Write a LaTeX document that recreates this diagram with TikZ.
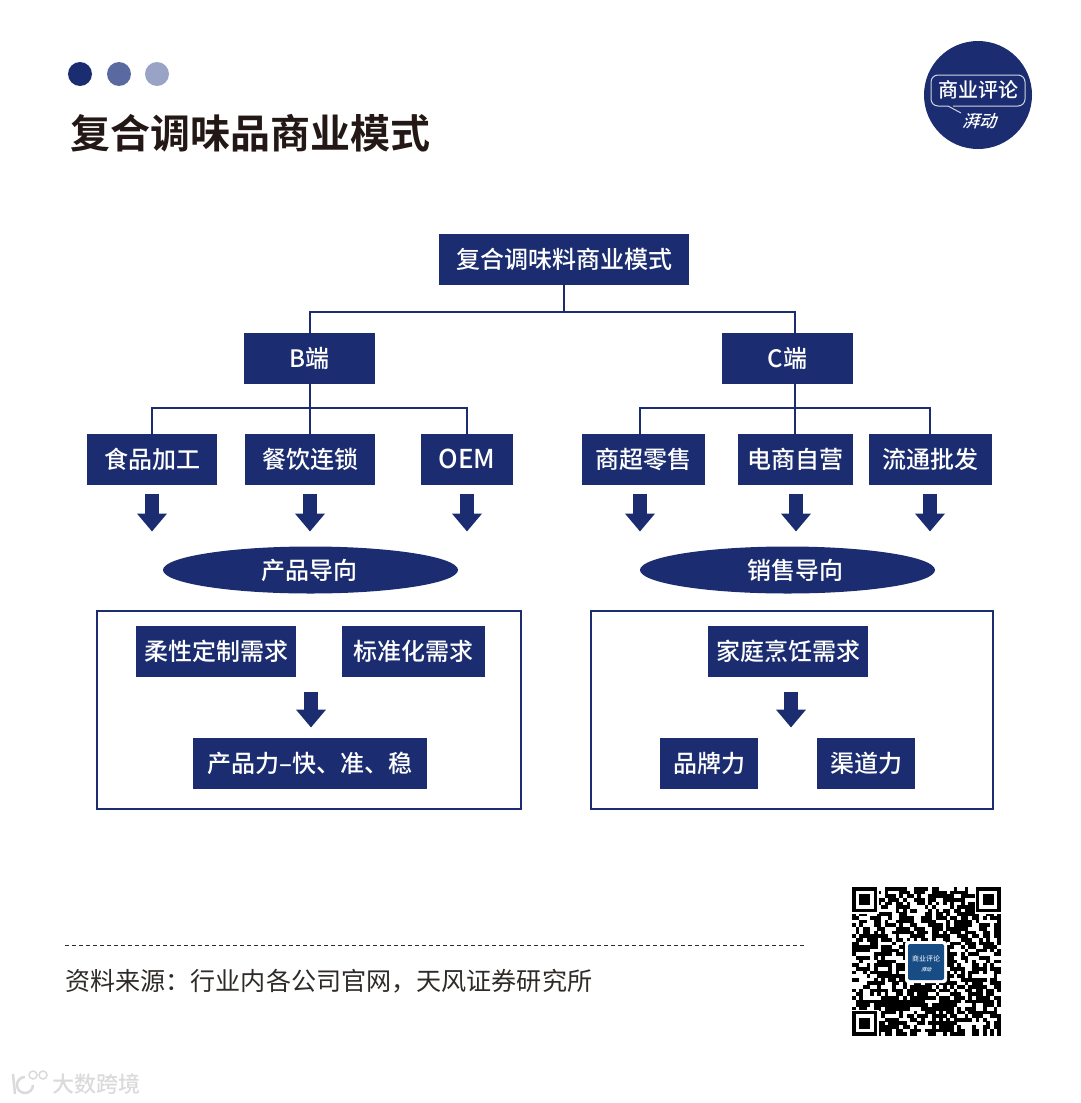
\documentclass[tikz,border=0pt]{standalone}
\usepackage{xcolor}
\usepackage{fontspec}
\usetikzlibrary{positioning,arrows.meta,shapes.geometric,calc}
\setmainfont{Noto Sans CJK SC}
\newfontfamily\cjkmid{Noto Sans CJK SC Medium}
\newfontfamily\cjkhead{Noto Sans CJK SC Bold}
\newfontfamily\cjkslant[FakeSlant=0.3]{Noto Sans CJK SC Medium}
\definecolor{Navy}{HTML}{1B2D70}
\definecolor{NavyMid}{HTML}{5A6AA0}
\definecolor{NavyPale}{HTML}{98A3C6}
\definecolor{Ink}{HTML}{231815}
\definecolor{SourceInk}{HTML}{2E2A28}
\definecolor{MarkGray}{HTML}{DADADA}

\begin{document}
\begin{tikzpicture}[
  x=1pt, y=-1pt,
  box/.style={fill=Navy, text=white, font=\cjkmid\fontsize{24}{24}\selectfont, align=center, minimum height=51pt, inner sep=0pt, outer sep=0pt},
  oval/.style={ellipse, fill=Navy, text=white, font=\cjkmid\fontsize{24}{24}\selectfont, minimum width=295pt, minimum height=47pt, inner sep=0pt, outer sep=0pt},
  frame/.style={draw=Navy, line width=2pt, minimum height=198pt, inner sep=0pt, outer sep=0pt},
  link/.style={draw=Navy, line width=1.8pt},
  bigflow/.style={draw=Navy, line width=14pt, -{Triangle[length=18pt,width=29pt]}}]
\useasboundingbox (0,0) rectangle (1080,1103);
\fill[Navy] (80,74) circle (12);
\fill[NavyMid] (119,74) circle (12);
\fill[NavyPale] (157,74) circle (12);
\node[anchor=west, inner sep=0pt, text=Ink, font=\cjkhead\fontsize{40}{40}\selectfont] (title) at (70,133) {复合调味品商业模式};
\node[circle, fill=Navy, minimum size=108pt, inner sep=0pt] (logo) at (978,95) {};
\node[text=white, font=\cjkmid\fontsize{20}{20}\selectfont, inner sep=0pt] (logoname) at (978,90) {商业评论};
\node[text=white, font=\cjkslant\fontsize{17}{17}\selectfont, inner sep=0pt] (logosub) at (979,121) {湃动};
\draw[white!80!Navy, line width=1pt, rounded corners=7pt] (948,106) -- (931,106) -- (931,75) -- (1025,75) -- (1025,106) -- (953,106);
\draw[white!80!Navy, line width=1pt] (948,106) -- (961,113);

\node[box, minimum width=250pt] (root) at (564,259) {复合调味料商业模式};
\node[box, minimum width=131pt, below=48pt of root, xshift=-254.5pt] (bend) {B端};
\node[box, minimum width=131pt, below=48pt of root, xshift=223.5pt] (cend) {C端};
\node[box, minimum width=130pt, below=50pt of bend, xshift=-157.5pt] (food) {食品加工};
\node[box, minimum width=130pt, right=28pt of food] (chain) {餐饮连锁};
\node[box, minimum width=92pt, right=46pt of chain, font=\cjkmid\fontsize{26}{26}\selectfont] (oem) {OEM};
\node[box, minimum width=123pt, below=50pt of cend, xshift=-144pt] (retail) {商超零售};
\node[box, minimum width=115pt, right=33pt of retail] (ecom) {电商自营};
\node[box, minimum width=123pt, right=16pt of ecom] (whole) {流通批发};
\node[oval, below=62pt of chain, xshift=0.5pt] (prod) {产品导向\hspace*{3pt}};
\node[oval, below=62pt of ecom, xshift=-8pt] (sale) {\hspace*{15pt}销售导向};
\node[frame, minimum width=424pt, below=17pt of prod, xshift=-1.5pt] (framel) {};
\node[frame, minimum width=402pt, below=17pt of sale, xshift=4.5pt] (framer) {};
\node[box, minimum width=160pt, below right=15pt and 39pt of framel.north west] (flex) {柔性定制需求};
\node[box, minimum width=143pt, right=46pt of flex] (std) {标准化需求};
\node[box, minimum width=234pt, below=61pt of flex, xshift=94pt] (power) {产品力–快、准、稳};
\node[box, minimum width=160pt, below=15pt of framer.north, xshift=-4pt] (home) {家庭烹饪需求};
\node[box, minimum width=98pt, below=61pt of home, xshift=-79pt] (brand) {品牌力};
\node[box, minimum width=98pt, right=59pt of brand] (channel) {渠道力};

\coordinate (busa) at (564,312);
\coordinate (busb) at (310,408);
\coordinate (busc) at (795,408);
\draw[link] (root.south) -- (busa);
\draw[link] (busa) -| ([xshift=0.5pt]bend.north);
\draw[link] (busa) -| ([xshift=7.5pt]cend.north);
\draw[link] ([xshift=0.5pt]bend.south) -- (busb);
\draw[link] (busb) -| (food.north);
\draw[link] (busb) -- (chain.north);
\draw[link] (busb) -| (oem.north);
\draw[link] ([xshift=7.5pt]cend.south) -- (busc);
\draw[link] (busc) -| ([xshift=-3.5pt]retail.north);
\draw[link] (busc) -- ([xshift=-0.5pt]ecom.north);
\draw[link] (busc) -| ([xshift=-0.5pt]whole.north);

\foreach \src/\dst/\off in {food/prod/0pt, chain/prod/0pt, oem/prod/0pt, retail/sale/-3.5pt, ecom/sale/0.5pt, whole/sale/-0.5pt}
  \draw[bigflow, shorten <=9pt, shorten >=15pt] ([xshift=\off]\src.south) -- ([xshift=\off]\src.south |- \dst.north);
\draw[bigflow, shorten <=15pt, shorten >=10pt] ([xshift=1pt]power.north |- flex.south) -- ([xshift=1pt]power.north);
\draw[bigflow, shorten <=15pt, shorten >=10pt] ([xshift=3pt]home.south) -- ([xshift=3pt]home.south |- brand.north);

\draw[SourceInk, line width=0.8pt, dash pattern=on 4pt off 3pt] (65,945) -- (805,945);
\node[anchor=west, inner sep=0pt, text=SourceInk, font=\fontsize{25.1}{25.1}\selectfont] (source) at (65,981) {资料来源：行业内各公司官网，天风证券研究所};

\pgfmathsetseed{11}
\foreach \col in {0,...,40}
  \foreach \row in {0,...,40} {
    \pgfmathrandominteger{\qrbit}{0}{9}
    \ifnum\qrbit>3
      \fill[black] ({852+\col*3.634},{887+\row*3.634}) rectangle ++(3.7,3.7);
    \fi
  }
\foreach \qx/\qy in {852/887, 975.6/887, 852/1010.6} {
  \fill[white] ({\qx-1},{\qy-1}) rectangle ++(28,28);
  \fill[black] (\qx,\qy) rectangle ++(25.4,25.4);
  \fill[white] ({\qx+3.6},{\qy+3.6}) rectangle ++(18.2,18.2);
  \fill[black] ({\qx+7.3},{\qy+7.3}) rectangle ++(10.9,10.9);
}
\fill[white, rounded corners=3pt] (905,941) rectangle (947,983);
\fill[Navy!85!cyan, rounded corners=2pt] (908,944) rectangle (944,980);
\node[text=white, font=\fontsize{7}{7}\selectfont, inner sep=0pt] (qrname) at (926,959) {商业评论};
\node[text=white, font=\cjkslant\fontsize{5}{5}\selectfont, inner sep=0pt] (qrsub) at (926,970) {湃动};

\draw[MarkGray, line width=2.5pt] (13,1074) -- (15,1094);
\draw[MarkGray, line width=2.5pt] (25,1077) arc[start angle=90, end angle=360, radius=8pt];
\draw[MarkGray, line width=1.5pt] (33,1075) circle (4);
\draw[MarkGray, line width=1.5pt] (43,1075) circle (4);
\node[anchor=west, inner sep=0pt, text=MarkGray, font=\cjkmid\fontsize{22}{22}\selectfont] (mark) at (52,1084) {大数跨境};
\end{tikzpicture}
\end{document}
